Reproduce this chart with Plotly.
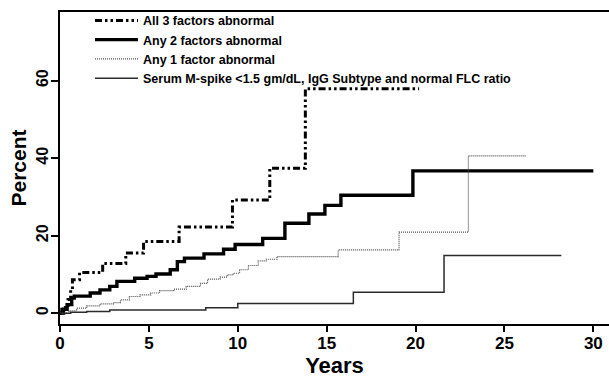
import plotly.graph_objects as go

# ---- data ----
all3_x = [0, 0.1, 0.3, 0.45, 0.6, 0.7, 1.1, 2.4, 3.7, 4.7, 6.7, 9.7, 11.8, 13.8, 20.2]
all3_y = [0, 1.0, 2.0, 3.5, 6.0, 8.6, 10.5, 12.8, 15.5, 18.5, 22.2, 29.2, 37.4, 57.9, 57.9]

any2_x = [0, 0.2, 0.4, 0.66, 0.8, 1.7, 2.25, 2.8, 3.2, 4.2, 4.9, 5.4, 6.2, 6.6, 7.0, 8.1,
          9.2, 9.85, 11.4, 12.65, 14.0, 14.9, 15.8, 19.85, 30.0]
any2_y = [0, 1.0, 2.2, 3.9, 4.4, 5.2, 6.0, 6.9, 8.2, 9.0, 9.5, 10.1, 11.2, 13.3, 14.2, 15.3,
          16.5, 17.7, 19.3, 23.2, 25.6, 27.8, 30.4, 36.7, 36.7]

any1_x = [0, 0.5, 0.94, 1.5, 2.25, 3.0, 3.4, 3.9, 4.5, 5.1, 5.6, 6.4, 7.1, 7.9, 8.3, 9.0,
          9.4, 9.75, 10.1, 10.6, 11.15, 11.6, 12.2, 15.65, 19.07, 22.97, 26.2]
any1_y = [0, 0.6, 1.3, 1.9, 2.4, 2.7, 3.4, 4.3, 4.7, 5.2, 5.8, 6.2, 6.9, 7.7, 8.8, 9.3,
          9.9, 10.3, 11.2, 12.3, 13.5, 13.9, 14.6, 16.3, 20.9, 40.6, 40.6]

mspike_x = [0, 0.6, 1.5, 2.8, 8.2, 10.0, 16.5, 21.6, 28.2]
mspike_y = [0, 0.2, 0.4, 0.8, 1.4, 2.5, 5.4, 14.9, 14.9]

names = ["All 3 factors abnormal", "Any 2 factors abnormal", "Any 1 factor abnormal",
         "Serum M-spike &lt;1.5 gm/dL, IgG Subtype and normal FLC ratio"]

x_ticks = [0, 5, 10, 15, 20, 25, 30]
y_ticks = [0, 20, 40, 60]

fig = go.Figure()
series = [
    (all3_x, all3_y, dict(color="black", width=3, dash="7px,3px,2.5px,3px,2.5px,3px")),
    (any2_x, any2_y, dict(color="black", width=3.4)),
    (any1_x, any1_y, dict(color="#4d4d4d", width=1.2, dash="1px,1px")),
    (mspike_x, mspike_y, dict(color="#2b2b2b", width=1.5)),
]
for (xs, ys, ln), nm in zip(series, names):
    fig.add_trace(go.Scatter(x=xs, y=ys, mode="lines", name=nm, line=dict(shape="hv", **ln)))

font_family = "Liberation Sans, Arial, sans-serif"
fig.update_layout(
    width=609, height=378,
    margin=dict(l=60, r=0, t=12, b=54),
    plot_bgcolor="white", paper_bgcolor="white",
    font=dict(family=font_family, color="black"),
    showlegend=True,
    legend=dict(x=0.0546, y=1.02, xanchor="left", yanchor="top",
                bgcolor="rgba(0,0,0,0)", borderwidth=0,
                font=dict(size=12.5, family=font_family, color="black", weight="bold"),
                tracegroupgap=0, itemwidth=43),
    xaxis=dict(range=[0, 30.88], tickvals=x_ticks, ticks="outside", ticklen=6, tickwidth=1.5,
               tickcolor="black", automargin=False, ticklabelstandoff=-3,
               showline=True, linewidth=2, linecolor="black", mirror=True,
               showgrid=False, zeroline=False,
               tickfont=dict(size=17, weight="bold"),
               title=dict(text="Years", font=dict(size=22, weight="bold"), standoff=9)),
    yaxis=dict(range=[-2.8, 77.7], tickvals=y_ticks, ticks="outside", ticklen=7, tickwidth=1.5,
               tickcolor="black", automargin=False, ticklabelstandoff=-3,
               showline=True, linewidth=2, linecolor="black", mirror=False,
               showgrid=False, zeroline=False, tickangle=-90,
               tickfont=dict(size=16, weight="bold"),
               title=dict(text="Percent", font=dict(size=21, weight="bold"), standoff=1)),
)

fig.write_html("out.html", config={"displayModeBar": False},
               post_script="document.body.style.margin='0';")
